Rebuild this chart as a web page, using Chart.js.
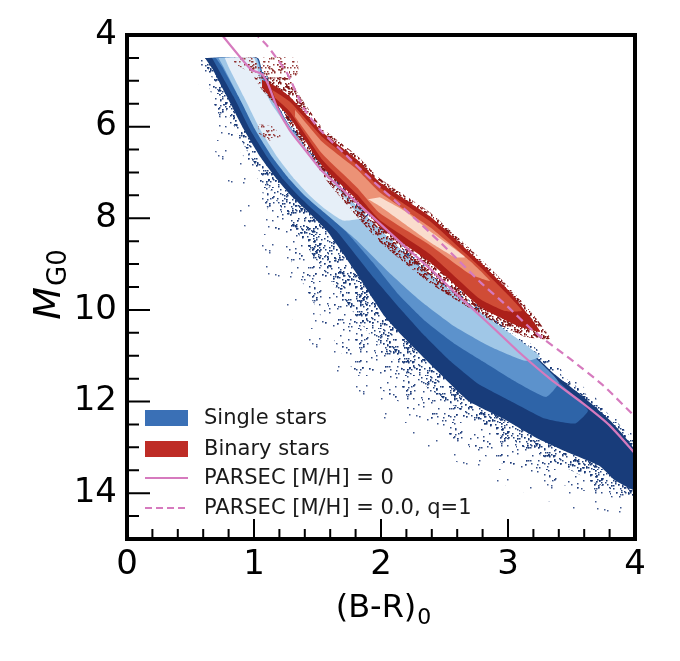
<!DOCTYPE html>
<html>
<head>
<meta charset="utf-8">
<script src="https://cdn.jsdelivr.net/npm/chart.js@4.4.1/dist/chart.umd.min.js"></script>
<style>
  html, body { margin: 0; padding: 0; background: #fff; }
  #wrap { width: 680px; height: 661px; }
</style>
</head>
<body>
<div id="wrap"><canvas id="cmd" width="680" height="661"></canvas></div>
<script>
// axis ticks
const xTicks = [0, 1, 2, 3, 4];
const yTicks = [4, 6, 8, 10, 12, 14];
const legendLabels = ["Single stars", "Binary stars", "PARSEC [M/H] = 0", "PARSEC [M/H] = 0.0, q=1"];

// isochrones, [BR0, MG0]
const parsecSolid = [[0.72,3.9],[0.748,4.0],[0.89,4.48],[0.98,4.76],[1.06,4.85],[1.11,5.07],[1.18,5.57],[1.28,6.07],[1.40,6.50],[1.54,6.98],[1.72,7.43],[1.91,7.91],[2.15,8.52],[2.39,9.11],[2.62,9.72],[2.86,10.33],[3.09,10.93],[3.33,11.5],[3.59,12.04],[3.80,12.52],[4.0,13.13]];
const parsecDashed = [[0.99,3.95],[1.02,4.0],[1.10,4.22],[1.26,4.83],[1.39,5.59],[1.52,6.07],[1.72,6.61],[1.93,7.17],[2.25,7.96],[2.52,8.67],[2.78,9.39],[2.99,9.91],[3.20,10.46],[3.49,11.07],[3.75,11.65],[4.0,12.33]];

// single stars: density contours, outer -> inner
const singleFaint = [[0.535,4.5],[0.614,5.85],[0.772,7.15],[0.969,8.46],[1.205,9.76],[1.52,11.07],[1.913,12.15],[2.386,13.02],[2.937,13.78],[3.488,14.33],[4.0,14.54],[4.0,12.8],[3.803,12.2],[3.59,11.67],[3.37,11.2],[3.173,10.72],[2.937,10.2],[2.661,9.65],[2.386,9.11],[2.126,8.46],[1.858,7.70],[1.598,6.93],[1.362,6.07],[1.165,5.2],[1.063,4.59],[1.031,4.5]];
const singleSparse = [[0.575,4.5],[0.654,5.2],[0.709,5.70],[0.866,6.43],[1.031,7.15],[1.126,7.96],[1.283,8.89],[1.441,9.70],[1.756,11.22],[2.252,12.22],[2.803,13.17],[3.252,13.67],[3.724,14.04],[4.0,14.15],[4.0,12.8],[3.803,12.2],[3.59,11.67],[3.37,11.2],[3.173,10.72],[2.937,10.2],[2.661,9.65],[2.386,9.11],[2.126,8.46],[1.858,7.70],[1.598,6.93],[1.362,6.07],[1.165,5.2],[1.063,4.59],[1.031,4.5]];
const singleNear = [[0.60,4.5],[0.68,5.0],[0.80,5.75],[0.95,6.55],[1.11,7.3],[1.25,7.95],[1.45,8.75],[1.68,9.65],[1.90,10.5],[2.18,11.3],[2.55,12.05],[2.95,12.75],[3.35,13.3],[3.75,13.85],[4.0,14.05],[4.0,12.9],[3.803,12.3],[3.59,11.78],[3.37,11.3],[3.173,10.8],[2.937,10.3],[2.661,9.72],[2.386,9.18],[2.126,8.53],[1.858,7.78],[1.598,7.0],[1.362,6.15],[1.165,5.25],[1.063,4.62],[1.031,4.5]];
const singleDense = [[0.614,4.5],[1.031,4.5],[1.063,4.80],[1.126,5.24],[1.244,5.89],[1.402,6.50],[1.598,7.15],[1.858,7.89],[2.126,8.61],[2.386,9.24],[2.661,9.80],[2.937,10.37],[3.173,10.89],[3.37,11.41],[3.59,11.89],[3.803,12.41],[4.0,13.07],[4.0,13.93],[3.843,13.72],[3.724,13.41],[3.488,13.13],[3.228,12.80],[2.961,12.37],[2.685,11.98],[2.441,11.33],[2.189,10.63],[2.031,10.15],[1.811,9.22],[1.575,8.28],[1.402,7.80],[1.283,7.48],[1.181,7.15],[1.047,6.65],[0.921,6.07],[0.787,5.35],[0.677,4.76]];
const singleMid = [[0.67,4.5],[1.024,4.5],[1.071,4.89],[1.142,5.30],[1.268,5.93],[1.425,6.54],[1.622,7.20],[1.874,7.93],[2.134,8.67],[2.386,9.33],[2.661,9.89],[2.937,10.46],[3.173,10.98],[3.354,11.46],[3.528,11.89],[3.63,12.2],[3.528,12.48],[3.291,12.37],[3.016,11.98],[2.764,11.61],[2.543,11.11],[2.346,10.57],[2.16,10.0],[1.92,9.22],[1.65,8.28],[1.46,7.80],[1.34,7.48],[1.23,7.15],[1.10,6.65],[0.97,6.07],[0.84,5.35],[0.73,4.8]];
const singleMid2 = [[0.70,4.5],[1.02,4.5],[1.068,4.91],[1.152,5.40],[1.29,6.03],[1.46,6.66],[1.67,7.37],[1.94,8.13],[2.20,8.85],[2.46,9.47],[2.74,10.04],[3.00,10.58],[3.22,11.06],[3.40,11.58],[3.30,11.90],[3.05,11.55],[2.80,11.12],[2.57,10.72],[2.35,10.25],[2.14,9.67],[1.93,8.95],[1.72,8.28],[1.50,7.72],[1.37,7.36],[1.26,7.03],[1.12,6.50],[0.99,5.90],[0.86,5.25],[0.75,4.7]];
const singleLight = [[0.72,4.5],[1.016,4.5],[1.063,4.93],[1.165,5.52],[1.323,6.17],[1.52,6.83],[1.756,7.59],[2.031,8.35],[2.307,9.07],[2.583,9.65],[2.858,10.2],[3.094,10.67],[3.252,11.02],[3.134,11.11],[2.858,10.8],[2.583,10.37],[2.31,9.80],[2.05,9.15],[1.80,8.46],[1.52,7.80],[1.39,7.48],[1.28,7.15],[1.14,6.65],[1.01,6.07],[0.88,5.35],[0.76,4.7]];
const singleCore = [[0.77,4.5],[1.0,4.5],[1.047,4.98],[1.142,5.52],[1.283,6.07],[1.441,6.61],[1.614,7.20],[1.80,7.85],[1.85,8.0],[1.70,8.05],[1.56,7.80],[1.43,7.48],[1.32,7.15],[1.18,6.65],[1.05,6.07],[0.92,5.35],[0.80,4.7]];

// binary stars: density contours, outer -> inner
const binaryTop = [[0.80,4.5],[1.33,4.5],[1.35,4.75],[1.32,4.98],[1.15,4.98],[1.0,4.85],[0.88,4.68]];
const binaryFringe = [[1.0,4.92],[1.28,4.95],[1.34,5.25],[1.543,6.043],[1.811,6.630],[1.992,7.130],[2.386,7.870],[2.780,8.870],[3.016,9.522],[3.213,10.152],[3.331,10.630],[3.134,10.587],[2.780,10.10],[2.386,9.42],[1.992,8.52],[1.598,7.27],[1.362,6.29],[1.205,5.63],[1.063,5.20]];
const binaryClump = [[1.03,5.95],[1.15,6.0],[1.22,6.25],[1.12,6.3],[1.04,6.15]];
const binaryDense = [[1.063,4.978],[1.165,5.109],[1.283,5.348],[1.543,6.130],[1.811,6.717],[1.992,7.217],[2.386,7.957],[2.780,8.957],[3.016,9.609],[3.173,10.152],[3.252,10.478],[3.094,10.370],[2.780,9.93],[2.386,8.96],[1.992,8.19],[1.811,7.60],[1.543,6.88],[1.283,5.81],[1.126,5.348],[1.063,5.152]];
const binaryMid = [[1.142,5.196],[1.283,5.457],[1.543,6.239],[1.811,6.826],[1.992,7.326],[2.386,8.065],[2.780,9.065],[3.016,9.717],[3.11,10.02],[2.976,10.022],[2.780,9.761],[2.386,8.783],[1.992,8.043],[1.811,7.478],[1.543,6.739],[1.283,5.674],[1.165,5.370]];
const binaryLight = [[1.323,5.630],[1.543,6.348],[1.811,6.935],[1.992,7.435],[2.386,8.196],[2.701,8.935],[2.858,9.370],[2.701,9.217],[2.386,8.587],[1.992,7.891],[1.811,7.326],[1.543,6.609],[1.323,5.783]];
const binaryCore = [[1.992,7.543],[2.189,7.848],[2.386,8.283],[2.583,8.674],[2.661,8.848],[2.583,8.848],[2.386,8.522],[2.189,8.130],[1.992,7.739],[1.898,7.587]];

const FONT = "'DejaVu Sans', sans-serif";
const ISO_COLOR = "rgb(214,122,190)";

const canvas = document.getElementById("cmd");
const ctx0 = canvas.getContext("2d");

// speckle texture for the dotted outskirts of the clouds (texture only)
function speckle(size, count, color, dot) {
    const c = document.createElement("canvas");
    c.width = size;
    c.height = size;
    const g = c.getContext("2d");
    g.fillStyle = color;
    let s = 12345;
    const next = () => { s = (s * 1103515245 + 12345) % 2147483648; return s / 2147483648; };
    for (let i = 0; i < count; i++) {
        g.fillRect(Math.floor(next() * size), Math.floor(next() * size), dot, dot);
    }
    return ctx0.createPattern(c, "repeat");
}

const toXY = (pts) => pts.map(([x, y]) => ({ x, y }));

function cloud(label, pts, fillStyle, order) {
    return {
        type: "line",
        label: label,
        data: toXY(pts),
        fill: "shape",
        backgroundColor: fillStyle,
        borderColor: "transparent",
        borderWidth: 0,
        pointRadius: 0,
        tension: 0.15,
        order: order,
    };
}

function iso(label, pts, dash, order) {
    return {
        type: "line",
        label: label,
        data: toXY(pts),
        fill: false,
        borderColor: ISO_COLOR,
        borderWidth: 2.2,
        borderDash: dash,
        pointRadius: 0,
        tension: 0.2,
        order: order,
    };
}

const datasets = [
    cloud("faint", singleFaint, speckle(47, 14, "rgba(30,60,125,0.85)", 1.5), 32),
    cloud("sparse", singleSparse, speckle(47, 70, "rgba(25,55,120,0.9)", 1.5), 31),
    cloud("near", singleNear, speckle(47, 240, "rgba(22,55,118,0.95)", 1.5), 30),
    cloud(legendLabels[0], singleDense, "rgb(24,60,122)", 28),
    cloud("mid", singleMid, "rgb(46,100,168)", 27),
    cloud("mid2", singleMid2, "rgb(92,146,204)", 26),
    cloud("light", singleLight, "rgb(160,199,231)", 25),
    cloud("core", singleCore, "rgb(230,239,248)", 24),
    cloud("btop", binaryTop, speckle(29, 90, "rgba(135,30,28,0.85)", 1.5), 21),
    cloud("bfringe", binaryFringe, speckle(31, 240, "rgba(128,20,20,0.95)", 1.5), 20),
    cloud("bclump", binaryClump, speckle(23, 60, "rgba(140,40,40,0.9)", 1.5), 20),
    cloud(legendLabels[1], binaryDense, "rgb(172,32,26)", 19),
    cloud("bmid", binaryMid, "rgb(208,76,54)", 18),
    cloud("blight", binaryLight, "rgb(236,146,118)", 17),
    cloud("bcore", binaryCore, "rgb(250,220,205)", 16),
    iso(legendLabels[2], parsecSolid, [], 2),
    iso(legendLabels[3], parsecDashed, [8, 5], 1),
];

const framePlugin = {
    id: "frame",
    afterDraw(chart) {
        const { ctx, chartArea: a, scales: { x, y } } = chart;
        ctx.save();
        ctx.strokeStyle = "#000";
        ctx.lineWidth = 2;
        ctx.beginPath();
        for (let i = 0; i <= 20; i++) {
            const px = x.getPixelForValue(i * 0.2);
            const len = i % 5 === 0 ? 20 : 10;
            ctx.moveTo(px, a.bottom);
            ctx.lineTo(px, a.bottom - len);
        }
        for (let i = 0; i <= 22; i++) {
            const py = y.getPixelForValue(4 + i * 0.5);
            const len = i % 4 === 0 ? 23 : 12;
            ctx.moveTo(a.left, py);
            ctx.lineTo(a.left + len, py);
        }
        ctx.stroke();
        ctx.lineWidth = 4;
        ctx.strokeRect(a.left, a.top, a.right - a.left, a.bottom - a.top);

        // x title: (B-R)0
        ctx.fillStyle = "#000";
        ctx.textBaseline = "alphabetic";
        ctx.textAlign = "left";
        const big = "32px " + FONT, small = "22px " + FONT;
        ctx.font = big;
        const w1 = ctx.measureText("(B-R)").width;
        ctx.font = small;
        const w2 = ctx.measureText("0").width;
        const x0 = (a.left + a.right) / 2 + 2 - (w1 + w2) / 2;
        ctx.font = big;
        ctx.fillText("(B-R)", x0, 617);
        ctx.font = small;
        ctx.fillText("0", x0 + w1 + 1, 624);

        // y title: M_G0
        ctx.save();
        ctx.translate(60, 285);
        ctx.rotate(-Math.PI / 2);
        const mFont = "italic 38px " + FONT, sFont = "26px " + FONT;
        ctx.font = mFont;
        const m1 = ctx.measureText("M").width;
        ctx.font = sFont;
        const m2 = ctx.measureText("G0").width;
        const s0 = -(m1 + m2) / 2;
        ctx.font = mFont;
        ctx.fillText("M", s0, 0);
        ctx.font = sFont;
        ctx.fillText("G0", s0 + m1 + 1, 6);
        ctx.restore();

        // legend
        const lx = a.left + 18;
        const rows = [a.bottom - 121, a.bottom - 90, a.bottom - 61, a.bottom - 31];
        ctx.font = "21px " + FONT;
        ctx.textBaseline = "middle";
        ctx.fillStyle = "rgb(58,112,182)";
        ctx.fillRect(lx, rows[0] - 8, 43, 16);
        ctx.fillStyle = "rgb(190,44,38)";
        ctx.fillRect(lx, rows[1] - 8, 43, 16);
        ctx.strokeStyle = ISO_COLOR;
        ctx.lineWidth = 2.2;
        ctx.beginPath();
        ctx.moveTo(lx, rows[2]);
        ctx.lineTo(lx + 43, rows[2]);
        ctx.stroke();
        ctx.setLineDash([7, 4]);
        ctx.beginPath();
        ctx.moveTo(lx, rows[3]);
        ctx.lineTo(lx + 43, rows[3]);
        ctx.stroke();
        ctx.setLineDash([]);
        ctx.fillStyle = "#1a1a1a";
        legendLabels.forEach((t, i) => ctx.fillText(t, lx + 59, rows[i] + 1));
        ctx.restore();
    },
};

new Chart(canvas, {
    type: "line",
    data: { datasets: datasets },
    options: {
        responsive: false,
        animation: false,
        devicePixelRatio: 1,
        layout: { padding: { left: 0, top: 35, right: 45, bottom: 0 } },
        plugins: { legend: { display: false }, tooltip: { enabled: false } },
        scales: {
            x: {
                type: "linear",
                min: 0,
                max: 4,
                afterBuildTicks: (s) => { s.ticks = xTicks.map((v) => ({ value: v })); },
                afterFit: (s) => { s.height = 122; },
                grid: { display: false, drawTicks: false },
                border: { display: false },
                ticks: { font: { family: FONT, size: 34 }, color: "#000", padding: 6, maxRotation: 0, autoSkip: false },
            },
            y: {
                type: "linear",
                min: 4,
                max: 15,
                reverse: true,
                afterBuildTicks: (s) => { s.ticks = yTicks.map((v) => ({ value: v })); },
                afterFit: (s) => { s.width = 127; },
                grid: { display: false, drawTicks: false },
                border: { display: false },
                ticks: { font: { family: FONT, size: 34 }, color: "#000", padding: 10, autoSkip: false },
            },
        },
    },
    plugins: [framePlugin],
});
</script>
</body>
</html>
